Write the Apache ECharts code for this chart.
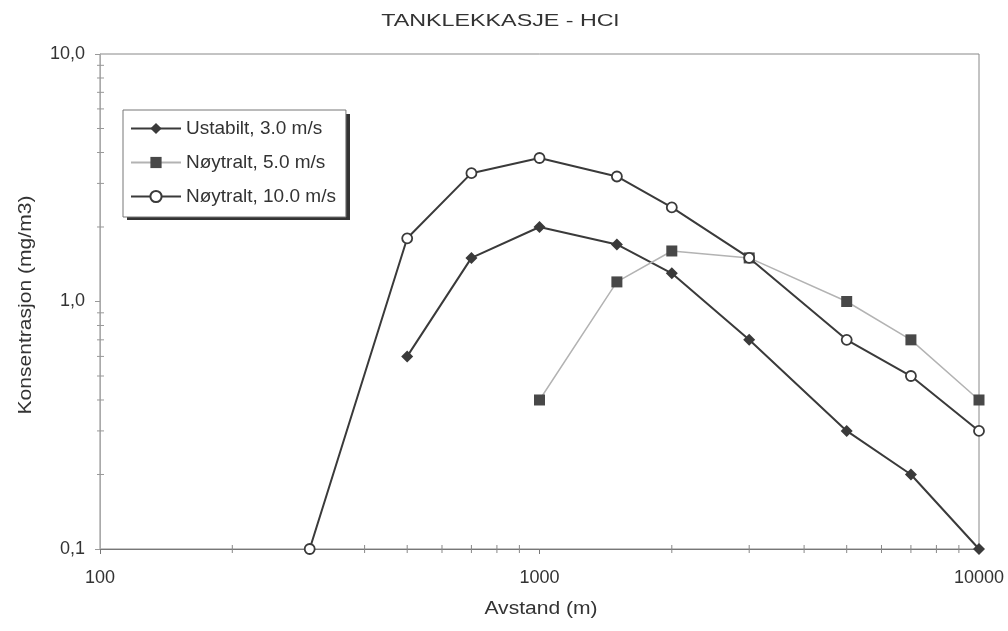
<!DOCTYPE html>
<html>
<head>
<meta charset="utf-8">
<script src="https://cdn.jsdelivr.net/npm/echarts@6/dist/echarts.min.js"></script>
<style>
  html, body { margin: 0; padding: 0; background: #fff; }
  #chart { width: 1008px; height: 631px; }
</style>
</head>
<body>
<div id="chart"></div>
<script>
// Distances (m) and concentrations (mg/m3) for each weather case
const ustabiltX = [500, 700, 1000, 1500, 2000, 3000, 5000, 7000, 10000];
const ustabiltY = [0.6, 1.5, 2.0, 1.7, 1.3, 0.7, 0.3, 0.2, 0.1];

const noytralt5X = [1000, 1500, 2000, 3000, 5000, 7000, 10000];
const noytralt5Y = [0.4, 1.2, 1.6, 1.5, 1.0, 0.7, 0.4];

const noytralt10X = [300, 500, 700, 1000, 1500, 2000, 3000, 5000, 7000, 10000];
const noytralt10Y = [0.1, 1.8, 3.3, 3.8, 3.2, 2.4, 1.5, 0.7, 0.5, 0.3];

const seriesNames = ['Ustabilt, 3.0 m/s', 'Nøytralt, 5.0 m/s', 'Nøytralt, 10.0 m/s'];

// Axis tick labels (log decades)
const xTickLabels = ['100', '1000', '10000'];
const yTickLabels = ['0,1', '1,0', '10,0'];

// Minor tick positions on the log axes
const xMinorTicks = [200, 300, 400, 500, 600, 700, 800, 900, 2000, 3000, 4000, 5000, 6000, 7000, 8000, 9000];
const yMinorTicks = [0.2, 0.3, 0.4, 0.5, 0.6, 0.7, 0.8, 0.9, 2, 3, 4, 5, 6, 7, 8, 9];

const FONT = "'Liberation Sans', Arial, sans-serif";
const TEXT = '#333';
const DARK = '#3a3a3a';

function pairs(xs, ys) { return xs.map((x, i) => [x, ys[i]]); }

const chart = echarts.init(document.getElementById('chart'), null, { renderer: 'canvas' });

chart.setOption({
  backgroundColor: '#fff',
  animation: false,
  textStyle: { fontFamily: FONT, color: TEXT },
  graphic: [
    {
      // chart title, set wide
      type: 'text',
      x: 500,
      y: 21,
      scaleX: 1.37,
      style: {
        text: 'TANKLEKKASJE - HCl',
        fontFamily: FONT, fontSize: 17, fill: TEXT,
        textAlign: 'center', textVerticalAlign: 'middle'
      }
    },
    {
      // y axis title
      type: 'text',
      x: 26,
      y: 305,
      rotation: Math.PI / 2,
      scaleX: 1.17,
      style: {
        text: 'Konsentrasjon (mg/m3)',
        fontFamily: FONT, fontSize: 18, fill: TEXT,
        textAlign: 'center', textVerticalAlign: 'middle'
      }
    },
    {
      // x axis title
      type: 'text',
      x: 541,
      y: 609,
      scaleX: 1.17,
      style: {
        text: 'Avstand (m)',
        fontFamily: FONT, fontSize: 18, fill: TEXT,
        textAlign: 'center', textVerticalAlign: 'middle'
      }
    },
    {
      // drop shadow behind the legend box
      type: 'rect',
      z: 3,
      shape: { x: 127, y: 114, width: 223, height: 106 },
      style: { fill: '#333' }
    }
  ],
  grid: {
    left: 100, right: 29, top: 54, bottom: 82,
    show: true, borderColor: '#888', borderWidth: 1
  },
  legend: {
    data: seriesNames,
    orient: 'vertical',
    left: 123, top: 110,
    z: 6,
    padding: [9, 10, 11, 7],
    itemWidth: 50,
    itemHeight: 14,
    itemGap: 15,
    backgroundColor: '#fff',
    borderColor: '#777',
    borderWidth: 1,
    textStyle: { fontFamily: FONT, fontSize: 19, color: TEXT }
  },
  xAxis: {
    type: 'log',
    logBase: 10,
    min: 100, max: 10000,
    axisLine: { lineStyle: { color: '#777', width: 1 } },
    axisTick: { show: true, length: 5, lineStyle: { color: '#777' } },
    minorTick: { show: false },
    splitLine: { show: false },
    axisLabel: {
      fontFamily: FONT, fontSize: 18, color: TEXT, margin: 20,
      formatter: (v, i) => xTickLabels[i]
    }
  },
  yAxis: {
    type: 'log',
    logBase: 10,
    min: 0.1, max: 10,
    axisLine: { lineStyle: { color: '#aaa', width: 1 } },
    axisTick: { show: true, length: 5, lineStyle: { color: '#999' } },
    minorTick: { show: false },
    splitLine: { show: false },
    axisLabel: {
      fontFamily: FONT, fontSize: 18, color: TEXT, margin: 15,
      formatter: (v, i) => yTickLabels[i]
    }
  },
  series: [
    {
      // minor ticks crossing the x axis
      type: 'custom',
      silent: true,
      clip: false,
      z: 1,
      data: xMinorTicks.map(v => [v, 0.1]),
      renderItem: (params, api) => {
        const p = api.coord([api.value(0), api.value(1)]);
        return {
          type: 'line',
          shape: { x1: p[0], y1: p[1] - 4, x2: p[0], y2: p[1] + 4 },
          style: { stroke: '#888', lineWidth: 1 }
        };
      }
    },
    {
      // minor ticks crossing the y axis
      type: 'custom',
      silent: true,
      clip: false,
      z: 1,
      data: yMinorTicks.map(v => [100, v]),
      renderItem: (params, api) => {
        const p = api.coord([api.value(0), api.value(1)]);
        return {
          type: 'line',
          shape: { x1: p[0] - 3, y1: p[1], x2: p[0] + 4, y2: p[1] },
          style: { stroke: '#999', lineWidth: 1 }
        };
      }
    },
    {
      name: seriesNames[0],
      type: 'line',
      data: pairs(ustabiltX, ustabiltY),
      symbol: 'diamond',
      symbolSize: 12,
      lineStyle: { color: DARK, width: 2 },
      itemStyle: { color: DARK },
      z: 3
    },
    {
      name: seriesNames[1],
      type: 'line',
      data: pairs(noytralt5X, noytralt5Y),
      symbol: 'rect',
      symbolSize: 11,
      lineStyle: { color: '#b3b3b3', width: 1.5 },
      itemStyle: { color: '#484848' },
      z: 3
    },
    {
      name: seriesNames[2],
      type: 'line',
      data: pairs(noytralt10X, noytralt10Y),
      symbol: 'circle',
      symbolSize: 10,
      lineStyle: { color: DARK, width: 2 },
      itemStyle: { color: '#fff', borderColor: DARK, borderWidth: 1.8 },
      z: 4
    }
  ]
});
</script>
</body>
</html>
